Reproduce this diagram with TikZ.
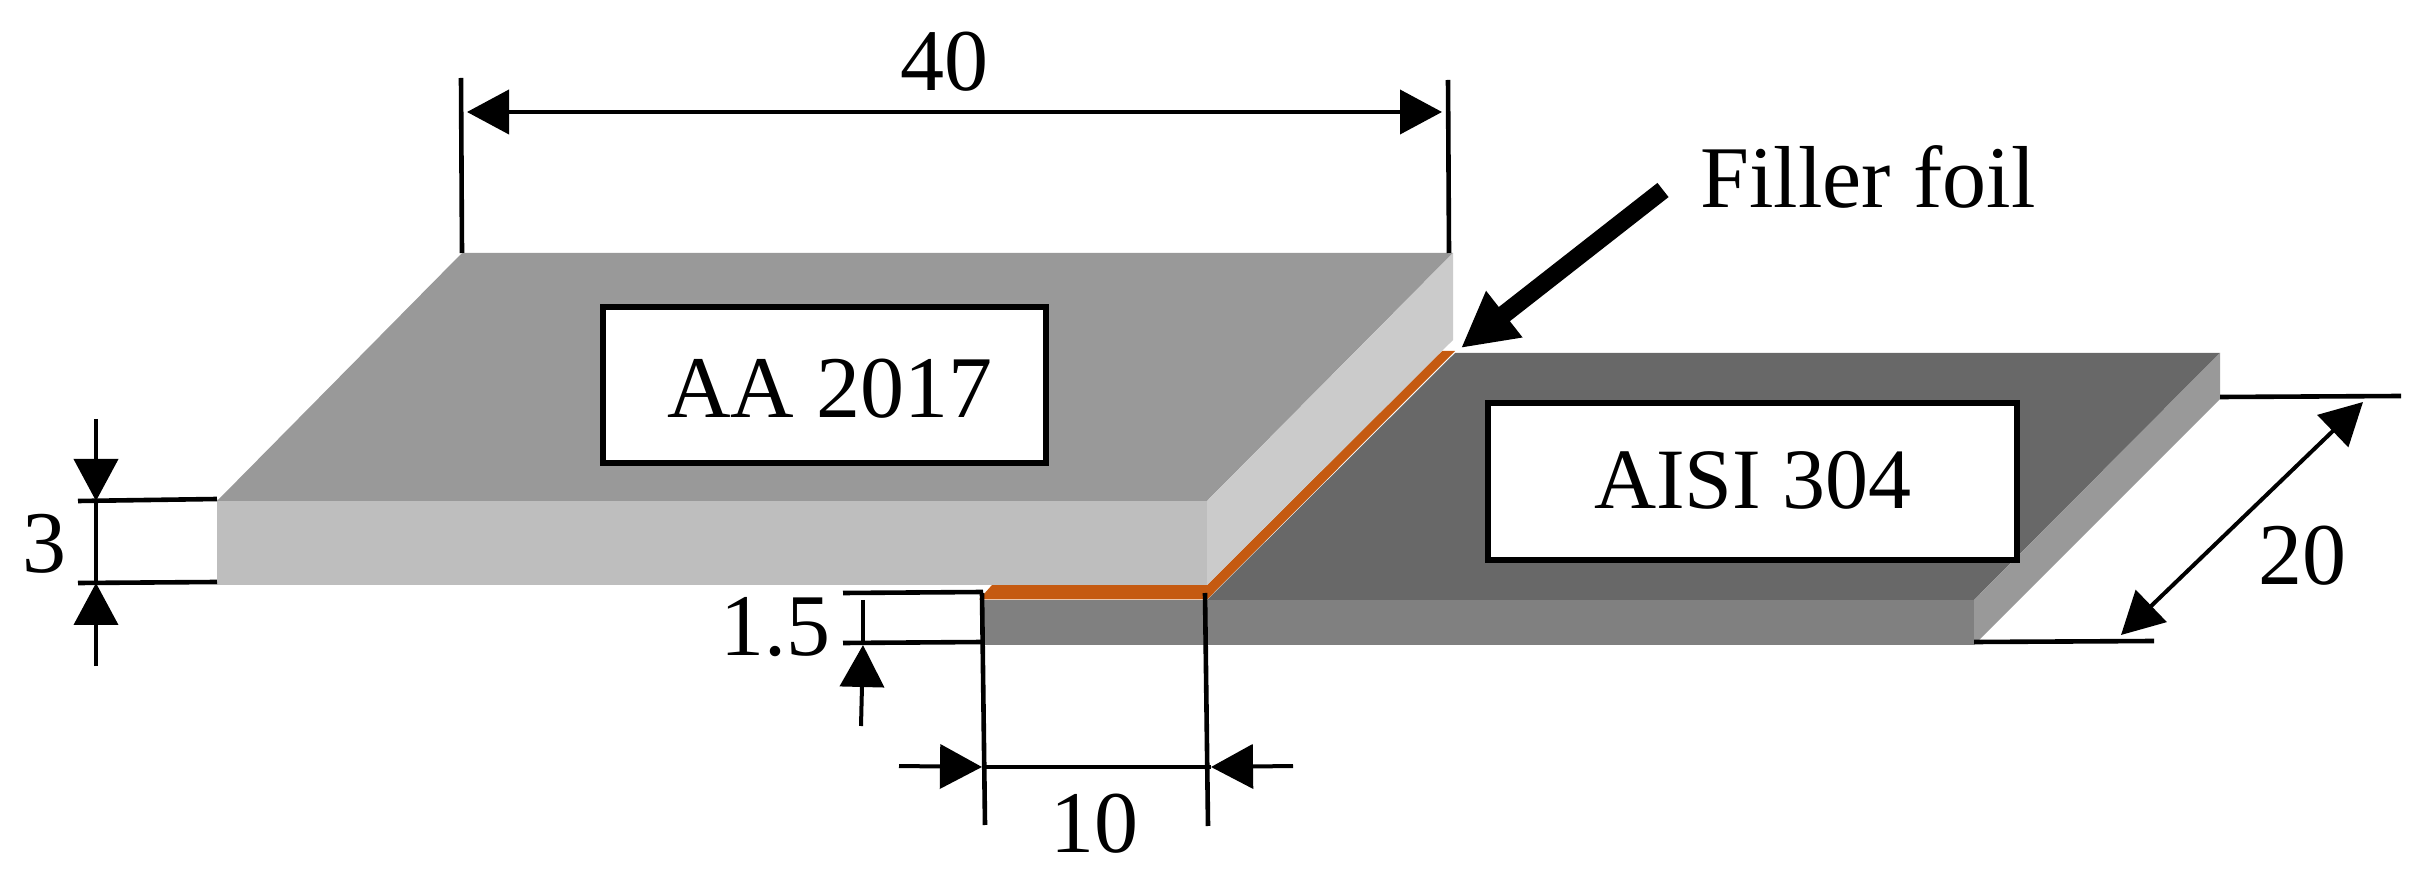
\documentclass[tikz,border=0pt]{standalone}
\usepackage{fontspec}
\setmainfont{Liberation Serif}
\usetikzlibrary{arrows.meta}
\definecolor{topL}{HTML}{999999}
\definecolor{frontL}{HTML}{BEBEBE}
\definecolor{sideL}{HTML}{CBCBCB}
\definecolor{topR}{HTML}{686868}
\definecolor{frontR}{HTML}{808080}
\definecolor{sideR}{HTML}{999999}
\definecolor{foil}{HTML}{C55A11}
\tikzset{
  x=0.5pt,y=-0.5pt,
  lbl/.style={anchor=base,inner sep=0pt,font=\fontsize{44}{50}\selectfont},
  platebox/.style={draw=black,fill=white,line width=3pt,line join=miter,inner sep=0pt,outer sep=0pt,anchor=north west},
  thin dim/.style={draw=black,line width=2pt},
  ext/.style={draw=black,line width=2.3pt},
  dimtip/.style={-{Triangle[length=21pt,width=22pt]}},
  dimtips/.style={{Triangle[length=21pt,width=22pt]}-{Triangle[length=21pt,width=22pt]}},
}
\begin{document}
\begin{tikzpicture}
\useasboundingbox (0,0) rectangle (2436,892);
% right plate
\fill[topR] (1455,353) -- (2220,353) -- (1974,600) -- (1207,600) -- cycle;
\fill[frontR] (983,600) rectangle (1974,645);
\fill[sideR] (2220,353) -- (2220,399) -- (1974,645) -- (1974,600) -- cycle;
% foil
\fill[foil] (1442,351) -- (1455,351) -- (1207,599.5) -- (979,599.5) -- (992,585) -- (1207,585) -- cycle;
% left plate
\fill[topL] (462,253) -- (1453,253) -- (1207,501) -- (217,501) -- cycle;
\fill[frontL] (217,501) rectangle (1207,585);
\fill[sideL] (1453,253) -- (1453,340) -- (1207,585) -- (1207,501) -- cycle;
% label boxes
\node[platebox,minimum width=221.5pt,minimum height=78pt] (boxL) at (603,307) {};
\node[lbl] (txtL) at (830,418) {AA 2017};
\node[platebox,minimum width=264.5pt,minimum height=78.5pt] (boxR) at (1488,403) {};
\node[lbl,font=\fontsize{43}{50}\selectfont] (txtR) at (1753,509) {AISI 304};
% dimension 40
\coordinate (a1) at (461,78); \coordinate (a2) at (462,253);
\coordinate (b1) at (1448,80); \coordinate (b2) at (1449,253);
\coordinate (c1) at (467,112); \coordinate (c2) at (1442,112);
\draw[ext] (a1) -- (a2);
\draw[ext] (b1) -- (b2);
\draw[thin dim,dimtips] (c1) -- (c2);
\node[lbl] (t40) at (944,91) {40};
% dimension 3
\coordinate (d1) at (78,501); \coordinate (d2) at (217,499);
\coordinate (e1) at (78,583); \coordinate (e2) at (217,582);
\coordinate (f1) at (96,419); \coordinate (f2) at (96,501);
\coordinate (g1) at (96,666); \coordinate (g2) at (96,583);
\draw[ext] (d1) -- (d2);
\draw[ext] (e1) -- (e2);
\draw[thin dim,dimtip] (f1) -- (f2);
\draw[thin dim,dimtip] (g1) -- (g2);
\draw[thin dim] (f2) -- (g2);
\node[lbl] (t3) at (44,573) {3};
% dimension 1.5
\coordinate (h1) at (843,593); \coordinate (h2) at (983,592);
\coordinate (i1) at (843,643); \coordinate (i2) at (983,642);
\coordinate (j1) at (863,600); \coordinate (j2) at (863,645);
\coordinate (k1) at (861,726);
\draw[ext] (h1) -- (h2);
\draw[ext] (i1) -- (i2);
\draw[thin dim] (j1) -- (j2);
\draw[thin dim,dimtip] (k1) -- (j2);
\node[lbl] (t15) at (775,655) {1.5};
% dimension 10
\coordinate (l1) at (982,593); \coordinate (l2) at (985,825);
\coordinate (m1) at (1205,593); \coordinate (m2) at (1208,826);
\coordinate (n1) at (899,766); \coordinate (n2) at (982,767);
\coordinate (o1) at (1293,766); \coordinate (o2) at (1211,767);
\draw[ext] (l1) -- (l2);
\draw[ext] (m1) -- (m2);
\draw[thin dim,dimtip] (n1) -- (n2);
\draw[thin dim,dimtip] (o1) -- (o2);
\draw[thin dim] (n2) -- (o2);
\node[lbl] (t10) at (1094,852) {10};
% dimension 20
\coordinate (p1) at (2220,397); \coordinate (p2) at (2401,396);
\coordinate (q1) at (1974,642); \coordinate (q2) at (2154,641);
\coordinate (r1) at (2363,402); \coordinate (r2) at (2121,635);
\draw[ext] (p1) -- (p2);
\draw[ext] (q1) -- (q2);
\draw[thin dim,dimtips] (r1) -- (r2);
\node[lbl] (t20) at (2302,585) {20};
% filler foil
\node[lbl] (tF) at (1868,208) {Filler foil};
\coordinate (s1) at (1663,190); \coordinate (s2) at (1461,348);
\draw[black,line width=9pt,-{Triangle[length=27.5pt,width=27.5pt]}] (s1) -- (s2);
\end{tikzpicture}
\end{document}
